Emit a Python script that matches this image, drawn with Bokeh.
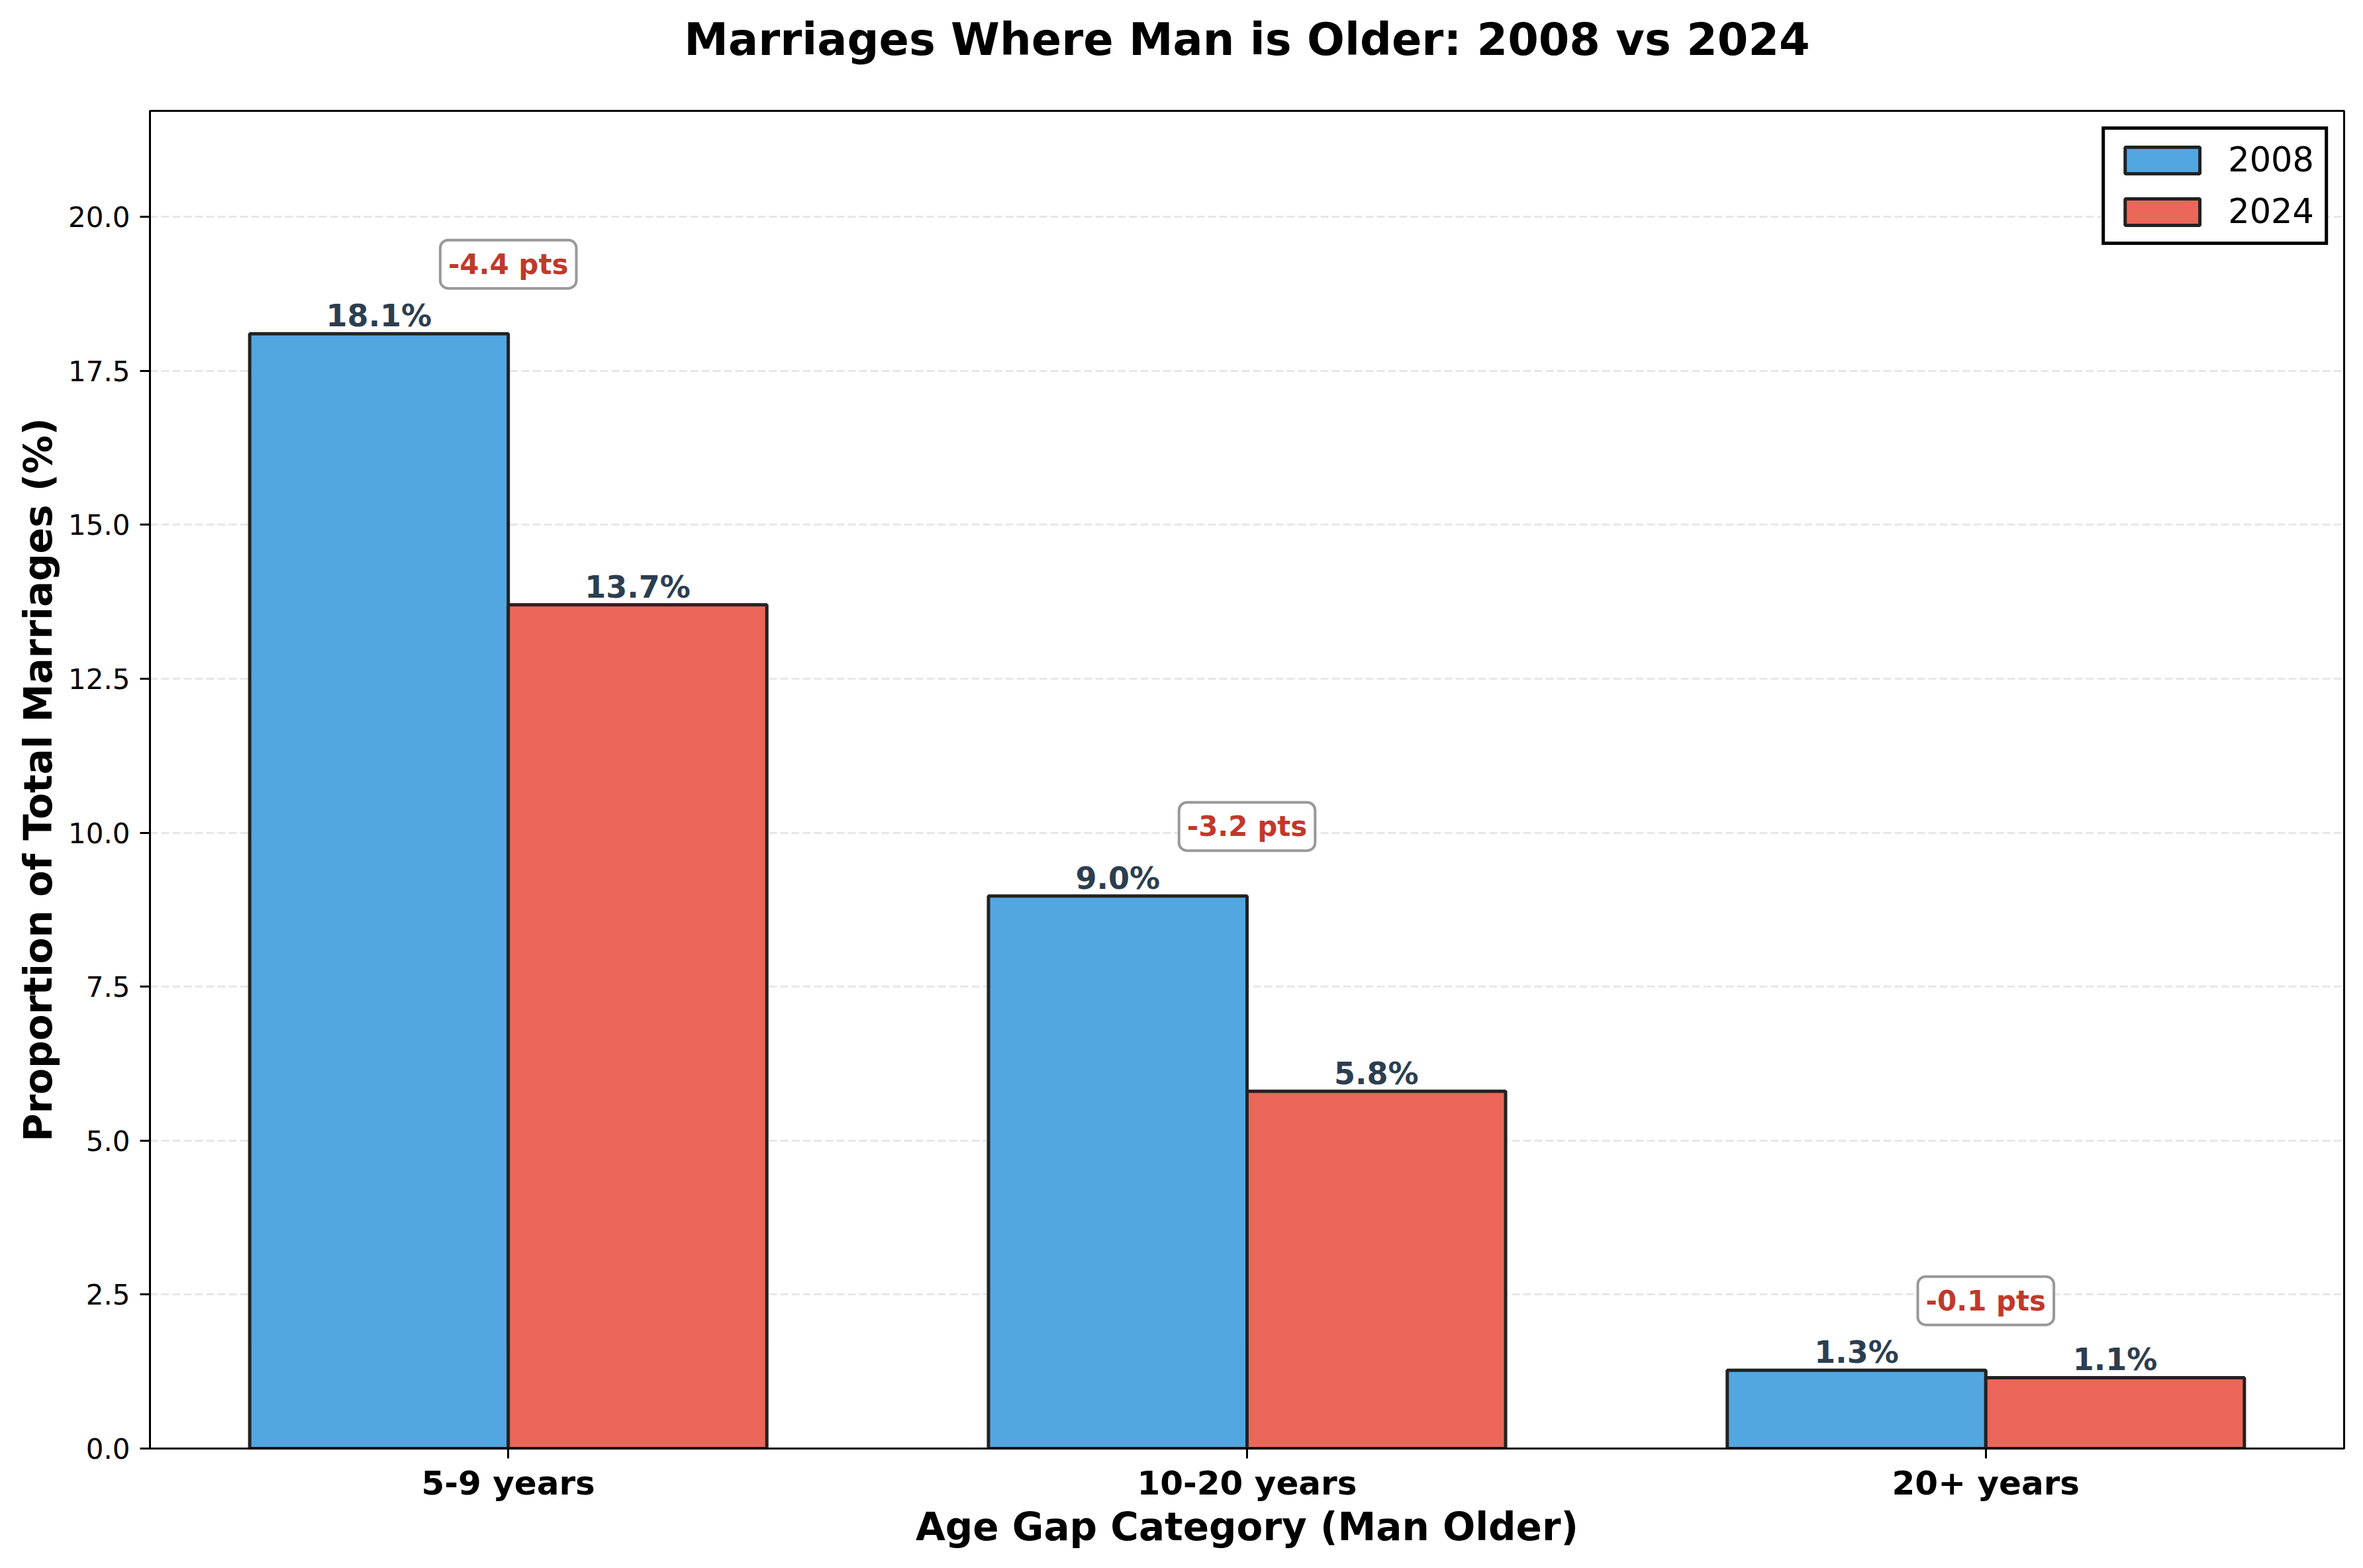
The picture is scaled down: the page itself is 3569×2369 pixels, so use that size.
from bokeh.plotting import figure
from bokeh.models import ColumnDataSource, Range1d, FixedTicker, PrintfTickFormatter, Label, Legend, LegendItem, Title
from bokeh.embed import file_html
from bokeh.resources import INLINE
from bokeh.core.properties import value

# data
categories = ['5-9 years', '10-20 years', '20+ years']
pct_2008 = [18.1, 8.97, 1.27]
pct_2024 = [13.7, 5.8, 1.15]
years = ['2008', '2024']
y_ticks = [0.0, 2.5, 5.0, 7.5, 10.0, 12.5, 15.0, 17.5, 20.0]

FONT = "DejaVu Sans"
bar_w = 0.35
idx = list(range(len(categories)))
x08 = [i - bar_w / 2 for i in idx]
x24 = [i + bar_w / 2 for i in idx]
ymax = max(pct_2008 + pct_2024) * 1.2
pad_x = 0.05 * (len(categories) - 1 + 2 * bar_w)

p = figure(width=3553, height=2353, output_backend="svg", toolbar_location=None, title=None,
           x_range=Range1d(-bar_w - pad_x, len(categories) - 1 + bar_w + pad_x),
           y_range=Range1d(0, ymax),
           min_border_left=226, min_border_right=13, min_border_top=0, min_border_bottom=165)

src08 = ColumnDataSource(dict(x=x08, top=pct_2008, lab=[f"{v:.1f}%" for v in pct_2008]))
src24 = ColumnDataSource(dict(x=x24, top=pct_2024, lab=[f"{v:.1f}%" for v in pct_2024]))

r08 = p.vbar(x='x', top='top', width=bar_w, source=src08, fill_color="#52A7E0",
             line_color="#222222", line_width=5)
r24 = p.vbar(x='x', top='top', width=bar_w, source=src24, fill_color="#EB6759",
             line_color="#222222", line_width=5)

for src in (src08, src24):
    p.text(x='x', y='top', text='lab', source=src, text_align='center', text_baseline='bottom',
           text_font=value(FONT), text_font_style='bold', text_font_size='46px', text_color='#2c3e50')

# change annotations above each group
for i in idx:
    diff = pct_2024[i] - pct_2008[i]
    p.add_layout(Label(x=i, y=max(pct_2008[i], pct_2024[i]) + 1.13, text=f"{diff:+.1f} pts",
                       text_align='center', text_baseline='middle', text_font=FONT,
                       text_font_style='bold', text_font_size='42px', text_color='#c0392b',
                       background_fill_color='white', border_line_color='#999999',
                       border_line_width=4, padding=12, border_radius=12))

legend = Legend(items=[LegendItem(label=years[0], renderers=[r08]),
                       LegendItem(label=years[1], renderers=[r24])],
                location='top_right', margin=24, padding=16, spacing=19,
                glyph_width=141, glyph_height=50, label_standoff=29, label_height=50,
                label_text_font=FONT, label_text_font_size='51px', label_text_color='black',
                border_line_color='black', border_line_width=5, border_line_alpha=1)
p.add_layout(legend)

# blank strip between title and frame, then the title itself
p.add_layout(Title(text=" ", text_font_size='10px', standoff=38), 'above')
p.add_layout(Title(text="Marriages Where Man is Older: 2008 vs 2024", align='center',
                   text_font=FONT, text_font_size='67px', text_font_style='bold',
                   text_color='black', standoff=36), 'above')

p.xaxis.ticker = FixedTicker(ticks=idx)
p.xaxis.major_label_overrides = {i: c for i, c in enumerate(categories)}
p.xaxis.major_label_text_font_size = '50px'
p.xaxis.major_label_text_font_style = 'bold'
p.xaxis.axis_label = "Age Gap Category (Man Older)"
p.xaxis.major_label_standoff = 8
p.xaxis.axis_label_standoff = 0

p.yaxis.ticker = FixedTicker(ticks=y_ticks)
p.yaxis.formatter = PrintfTickFormatter(format="%.1f")
p.yaxis.major_label_text_font_size = '42px'
p.yaxis.axis_label = "Proportion of Total Marriages (%)"
p.yaxis.major_label_standoff = 15
p.yaxis.axis_label_standoff = 8

for ax in (p.xaxis, p.yaxis):
    ax.major_label_text_font = FONT
    ax.major_label_text_color = 'black'
    ax.axis_label_text_font = FONT
    ax.axis_label_text_font_size = '58px'
    ax.axis_label_text_font_style = 'bold'
    ax.axis_label_text_color = 'black'
    ax.major_tick_in = 0
    ax.major_tick_out = 15
    ax.major_tick_line_width = 3
    ax.minor_tick_line_color = None
    ax.axis_line_width = 3

p.xgrid.grid_line_color = None
p.ygrid.grid_line_color = '#b0b0b0'
p.ygrid.grid_line_alpha = 0.3
p.ygrid.grid_line_width = 3
p.ygrid.grid_line_dash = "12 5"

p.outline_line_color = 'black'
p.outline_line_width = 3
p.outline_line_alpha = 1

open("out.html", "w").write(file_html(p, INLINE))
